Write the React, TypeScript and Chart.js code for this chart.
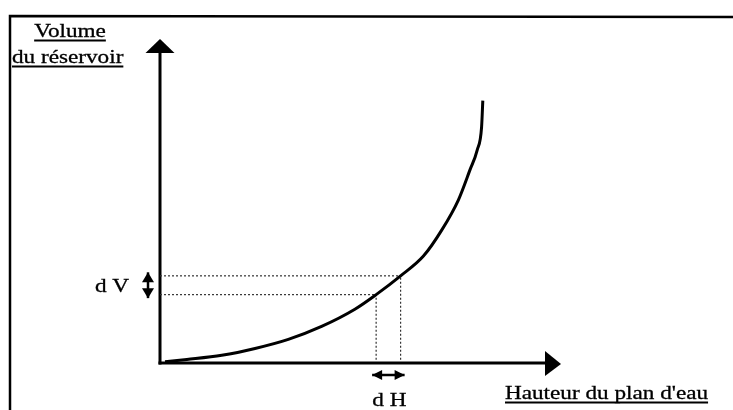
import React, { useEffect, useRef } from "react";
import { Chart, registerables } from "chart.js";

Chart.register(...registerables);

// Curve: reservoir volume as a function of water-level height
const heightH = [1.25, 6.7, 15.4, 23.7, 32.0, 40.3, 48.6, 53.9, 60.0, 65.7, 70.25, 74.4, 77.3, 79.1, 80.2, 80.5];
const volumeV = [0.4, 1.1, 2.4, 4.5, 7.3, 11.3, 16.6, 21.1, 26.9, 33.0, 41.0, 50.3, 59.6, 65.7, 72.9, 81.0];
// dH / dV interval
const dHRange = [53.9, 60.0];
const dVRange = [21.1, 26.9];
// Texts
const xLabel = "Hauteur du plan d'eau";
const yLabelLines = ["Volume", "du réservoir"];
const dVLabel = "d V";
const dHLabel = "d H";

const FONT_SIZE = 19;
const STRETCH = 1.22;
const FONT = `${FONT_SIZE}px "Liberation Serif", "Times New Roman", serif`;

function drawText(
  ctx: CanvasRenderingContext2D,
  text: string,
  x: number,
  y: number,
  align: "left" | "center" | "right",
  underline: boolean
) {
  ctx.save();
  ctx.font = FONT;
  const w = ctx.measureText(text).width * STRETCH;
  let left = x;
  if (align === "center") left = x - w / 2;
  if (align === "right") left = x - w;
  ctx.translate(left, y);
  ctx.scale(STRETCH, 1);
  ctx.fillStyle = "#000";
  ctx.strokeStyle = "#000";
  ctx.lineWidth = 0.3;
  ctx.textAlign = "left";
  ctx.textBaseline = "alphabetic";
  ctx.fillText(text, 0, 0);
  ctx.strokeText(text, 0, 0);
  ctx.restore();
  if (underline) {
    ctx.save();
    ctx.strokeStyle = "#000";
    ctx.lineWidth = 1.8;
    ctx.beginPath();
    ctx.moveTo(left, y + 3.5);
    ctx.lineTo(left + w, y + 3.5);
    ctx.stroke();
    ctx.restore();
  }
}

function doubleArrow(
  ctx: CanvasRenderingContext2D,
  x1: number,
  y1: number,
  x2: number,
  y2: number,
  headLen: number,
  headHalf: number
) {
  const ang = Math.atan2(y2 - y1, x2 - x1);
  const cos = Math.cos(ang);
  const sin = Math.sin(ang);
  ctx.save();
  ctx.fillStyle = "#000";
  ctx.strokeStyle = "#000";
  ctx.lineWidth = 2.5;
  ctx.beginPath();
  ctx.moveTo(x1, y1);
  ctx.lineTo(x2, y2);
  ctx.stroke();
  const head = (tx: number, ty: number, dir: number) => {
    const bx = tx - dir * cos * headLen;
    const by = ty - dir * sin * headLen;
    ctx.beginPath();
    ctx.moveTo(tx, ty);
    ctx.lineTo(bx - sin * headHalf, by + cos * headHalf);
    ctx.lineTo(bx + sin * headHalf, by - cos * headHalf);
    ctx.closePath();
    ctx.fill();
  };
  head(x2, y2, 1);
  head(x1, y1, -1);
  ctx.restore();
}

const schemaPlugin = {
  id: "schema",
  beforeDatasetsDraw(chart: any) {
    const { ctx, chartArea, scales } = chart;
    const { left, right, top, bottom } = chartArea;
    const axisY = bottom;
    ctx.save();
    // frame (top and left edges)
    ctx.strokeStyle = "#000";
    ctx.lineWidth = 2.5;
    ctx.beginPath();
    ctx.moveTo(chart.width, 17);
    ctx.lineTo(10, 16);
    ctx.lineTo(10, chart.height);
    ctx.stroke();

    // y axis with arrow
    ctx.lineWidth = 3;
    ctx.beginPath();
    ctx.moveTo(left, axisY + 1.5);
    ctx.lineTo(left, top + 12);
    ctx.stroke();
    ctx.fillStyle = "#000";
    ctx.beginPath();
    ctx.moveTo(left, top);
    ctx.lineTo(left + 14.5, top + 14);
    ctx.lineTo(left - 14.5, top + 14);
    ctx.closePath();
    ctx.fill();

    // x axis with arrow
    ctx.beginPath();
    ctx.moveTo(left - 1.5, axisY);
    ctx.lineTo(right - 14, axisY);
    ctx.stroke();
    ctx.beginPath();
    ctx.moveTo(right, axisY + 1);
    ctx.lineTo(right - 16, axisY - 12);
    ctx.lineTo(right - 16, axisY + 13);
    ctx.closePath();
    ctx.fill();
    ctx.restore();

    const xs = scales.x;
    const ys = scales.y;
    const xH1 = xs.getPixelForValue(dHRange[0]);
    const xH2 = xs.getPixelForValue(dHRange[1]);
    const yV1 = ys.getPixelForValue(dVRange[0]);
    const yV2 = ys.getPixelForValue(dVRange[1]);

    // dV arrow and label
    doubleArrow(ctx, left - 12, yV1 + 3.5, left - 12, yV2 - 3.5, 10, 6);
    drawText(ctx, dVLabel, left - 31, (yV1 + yV2) / 2 + 7, "right", false);

    // dH arrow and label
    doubleArrow(ctx, xH1 - 4, axisY + 12, xH2 + 4, axisY + 12, 10, 5);
    drawText(ctx, dHLabel, (xH1 + xH2) / 2 + 1, axisY + 43, "center", false);

    // axis titles
    drawText(ctx, yLabelLines[0], 70, 37, "center", true);
    drawText(ctx, yLabelLines[1], 12, 63, "left", true);
    drawText(ctx, xLabel, 505, 399, "left", true);
  },
};

export default function App() {
  const canvasRef = useRef<HTMLCanvasElement | null>(null);

  useEffect(() => {
    const canvas = canvasRef.current;
    if (!canvas) return;
    const curve = heightH.map((x, i) => ({ x, y: volumeV[i] }));
    const dotted = {
      borderColor: "#333",
      borderWidth: 1.2,
      borderDash: [2, 2],
      pointRadius: 0,
      showLine: true,
      fill: false,
    };
    const chart = new Chart(canvas, {
      type: "scatter",
      data: {
        datasets: [
          {
            label: "V(H)",
            data: curve,
            showLine: true,
            borderColor: "#000",
            borderWidth: 3,
            pointRadius: 0,
            cubicInterpolationMode: "monotone",
            fill: false,
          } as any,
          { ...dotted, data: [{ x: 0, y: dVRange[1] }, { x: dHRange[1], y: dVRange[1] }] },
          { ...dotted, data: [{ x: 0, y: dVRange[0] }, { x: dHRange[0], y: dVRange[0] }] },
          { ...dotted, data: [{ x: dHRange[0], y: 1 }, { x: dHRange[0], y: dVRange[0] }] },
          { ...dotted, data: [{ x: dHRange[1], y: 1 }, { x: dHRange[1], y: dVRange[1] }] },
        ],
      },
      options: {
        animation: false,
        responsive: false,
        devicePixelRatio: 1,
        layout: { padding: { left: 160, right: 172, top: 39, bottom: 47 } },
        plugins: { legend: { display: false }, tooltip: { enabled: false } },
        scales: {
          x: { type: "linear", min: 0, max: 100, display: false },
          y: { type: "linear", min: 0, max: 100, display: false },
        },
      },
      plugins: [schemaPlugin],
    });
    return () => chart.destroy();
  }, []);

  return (
    <div style={{ position: "fixed", left: 0, top: 0, width: 733, height: 410, background: "#fff" }}>
      <canvas ref={canvasRef} width={733} height={410} style={{ display: "block" }} />
    </div>
  );
}
